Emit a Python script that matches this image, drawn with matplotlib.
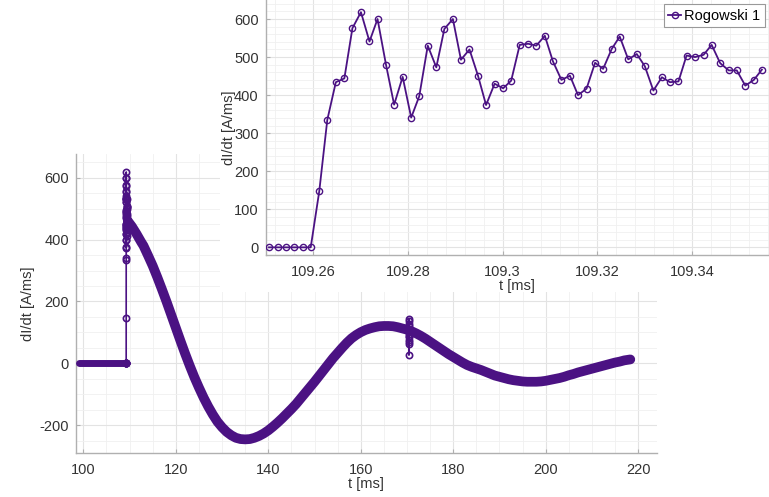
import numpy as np
import matplotlib
matplotlib.use('Agg')
import matplotlib.pyplot as plt
from matplotlib.ticker import MultipleLocator, FixedLocator

plt.rcParams['font.family'] = ['Liberation Sans', 'DejaVu Sans']
plt.rcParams['axes.unicode_minus'] = False

# Rogowski 1, samples around the switching instant (inset)
t_zoom = [109.2507, 109.2525, 109.2542, 109.2560, 109.2578, 109.2595,
          109.2613, 109.2630, 109.2648, 109.2666, 109.2683, 109.2701,
          109.2719, 109.2736, 109.2754, 109.2771, 109.2789, 109.2807,
          109.2824, 109.2842, 109.2860, 109.2877, 109.2895, 109.2912,
          109.2930, 109.2948, 109.2965, 109.2983, 109.3001, 109.3018,
          109.3036, 109.3054, 109.3071, 109.3089, 109.3106, 109.3124,
          109.3142, 109.3159, 109.3177, 109.3195, 109.3212, 109.3230,
          109.3247, 109.3265, 109.3283, 109.3300, 109.3318, 109.3336,
          109.3353, 109.3371, 109.3388, 109.3406, 109.3424, 109.3441,
          109.3459, 109.3477, 109.3494, 109.3512, 109.3530, 109.3547]
didt_zoom = [0, 0, 0, 0, 0, 0,
             147, 335, 434, 444, 576, 618,
             541, 600, 479, 375, 448, 341,
             397, 530, 473, 574, 600, 493,
             520, 451, 374, 430, 418, 438,
             532, 535, 530, 556, 489, 440,
             451, 400, 417, 485, 469, 521,
             554, 494, 508, 476, 412, 447,
             434, 436, 504, 500, 506, 532,
             484, 465, 465, 425, 440, 467]

# before the event
t_pre = [99.0, 109.249]
didt_pre = [0, 0]

# slow oscillation after the event
t_slow = [109.6, 110.0, 110.5, 111.0, 111.5, 112.0, 112.5, 113.0, 114.0, 115.0,
          116.0, 117.0, 118.0, 119.0, 120.0, 121.0, 122.0, 123.0, 124.0, 125.0,
          126.0, 127.0, 128.0, 129.0, 130.0, 131.0, 132.0, 133.0, 134.0, 135.0,
          136.0, 137.0, 138.0, 139.0, 140.0, 141.0, 142.0, 143.0, 144.0, 145.0,
          146.0, 147.0, 148.0, 149.0, 150.0, 151.0, 152.0, 153.0, 154.0, 155.0,
          156.0, 157.0, 158.0, 159.0, 160.0, 161.0, 162.0, 163.0, 164.0, 165.0,
          166.0, 167.0, 168.0, 169.0, 170.0, 170.4, 171.0, 172.0, 173.0, 174.0,
          175.0, 176.0, 177.0, 178.0, 179.0, 180.0, 181.0, 182.0, 183.0, 184.0,
          185.0, 186.0, 187.0, 188.0, 189.0, 190.0, 191.0, 192.0, 193.0, 194.0,
          195.0, 196.0, 197.0, 198.0, 199.0, 200.0, 201.0, 202.0, 203.0, 204.0,
          205.0, 206.0, 207.0, 208.0, 209.0, 210.0, 211.0, 212.0, 213.0, 214.0,
          215.0, 216.0, 217.0, 218.3]
didt_slow = [460, 452, 442, 430, 418, 405, 392, 380, 348, 315,
             278, 239, 199, 157, 115, 73, 32, -7, -44, -78,
             -110, -139, -165, -188, -206, -221, -232, -240, -244, -245,
             -244, -240, -234, -226, -216, -204, -191, -177, -162, -147,
             -131, -113, -95, -77, -59, -40, -21, -2, 17, 34,
             51, 67, 81, 92, 101, 108, 113, 117, 120, 121,
             121, 120, 117, 113, 109, 107, 104, 97, 89, 80,
             70, 60, 50, 40, 30, 21, 12, 3, -5, -11,
             -16, -21, -27, -33, -39, -43, -47, -51, -54, -56,
             -58, -59, -59, -59, -58, -56, -53, -50, -47, -43,
             -38, -34, -29, -25, -21, -17, -13, -9, -5, -1,
             3, 6, 10, 13]

# burst of samples near 170.4 ms
t_burst = [170.400, 170.402, 170.404, 170.406, 170.408, 170.410, 170.412,
           170.414, 170.416, 170.418, 170.420, 170.422, 170.424, 170.426]
didt_burst = [108, 128, 143, 137, 120, 96, 84, 70, 62, 75, 27, 90, 112, 104]

purple = '#4B1283'
grid_major = '#e3e3e3'
grid_minor = '#f0f0f0'
txt = '#333333'
fs = 10.5

fig = plt.figure(figsize=(7.69, 4.97), dpi=100)

# ---- main axes
ax = fig.add_axes([0.0988, 0.0879, 0.7551, 0.6022])
t_all = np.concatenate([t_pre, t_zoom, t_slow, t_burst])
d_all = np.concatenate([didt_pre, didt_zoom, didt_slow, didt_burst])
order = np.argsort(t_all, kind='stable')
ax.plot(t_all[order], d_all[order], color=purple, lw=1.2, zorder=3)
ax.plot(t_pre, didt_pre, color=purple, lw=5, solid_capstyle='round', zorder=3)
ax.plot(t_slow, didt_slow, color=purple, lw=7, solid_capstyle='round',
        solid_joinstyle='round', zorder=3)
ax.plot(t_zoom, didt_zoom, 'o', color=purple, mfc='none', ms=4.5, mew=1.2, zorder=4)
ax.plot(t_burst, didt_burst, 'o', color=purple, mfc='none', ms=4.5, mew=1.2, zorder=4)

ax.set_xlim(98.4, 224)
ax.set_ylim(-290, 676)
ax.set_xticks([100, 120, 140, 160, 180, 200, 220])
ax.set_yticks([-200, 0, 200, 400, 600])
ax.xaxis.set_minor_locator(MultipleLocator(5))
ax.yaxis.set_minor_locator(MultipleLocator(50))
ax.set_xlabel('t [ms]', fontsize=fs, color=txt, labelpad=0)
ax.set_ylabel('dI/dt [A/ms]', fontsize=fs, color=txt, labelpad=3)

# ---- white backing behind the inset
bg = fig.add_axes([0.286, 0.4125, 0.714, 0.5875])
bg.set_facecolor('white')
bg.set_xticks([])
bg.set_yticks([])
for s in bg.spines.values():
    s.set_visible(False)

# ---- inset axes
ins = fig.add_axes([0.3455, 0.4870, 0.6545, 0.5130])
ins.plot(t_zoom, didt_zoom, '-o', color=purple, lw=1.3, mfc='none', ms=4.5, mew=1.0,
         label='Rogowski 1', zorder=3)
ins.set_xlim(109.25, 109.3562)
ins.set_ylim(-20, 650)
ins.xaxis.set_major_locator(FixedLocator([109.26, 109.28, 109.30, 109.32, 109.34]))
ins.set_xticklabels(['109.26', '109.28', '109.3', '109.32', '109.34'])
ins.set_yticks([0, 100, 200, 300, 400, 500, 600])
ins.xaxis.set_minor_locator(MultipleLocator(0.004))
ins.yaxis.set_minor_locator(MultipleLocator(20))
ins.set_xlabel('t [ms]', fontsize=fs, color=txt, labelpad=0.5)
ins.set_ylabel('dI/dt [A/ms]', fontsize=fs, color=txt, labelpad=-1)
leg = ins.legend(loc='upper right', fontsize=fs, handlelength=0.9, handletextpad=0.2,
                 borderpad=0.3, fancybox=False, framealpha=1, borderaxespad=0.3)
leg.get_frame().set_edgecolor('#999999')
leg.get_frame().set_linewidth(0.8)

for a in (ax, ins):
    a.set_facecolor('white')
    a.grid(True, which='major', color=grid_major, lw=0.8, zorder=0)
    a.grid(True, which='minor', color=grid_minor, lw=0.6, zorder=0)
    a.set_axisbelow(True)
    for side in ('top', 'right'):
        a.spines[side].set_visible(False)
    for side in ('left', 'bottom'):
        a.spines[side].set_color('#b0b0b0')
        a.spines[side].set_linewidth(1.0)
    a.tick_params(which='major', direction='in', length=3, color='#b0b0b0',
                  labelsize=fs, labelcolor=txt)
    a.tick_params(axis='x', which='major', pad=7)
    a.tick_params(axis='y', which='major', pad=5)
    a.tick_params(which='minor', length=0)

fig.savefig('out.png', dpi=100, facecolor='white')
